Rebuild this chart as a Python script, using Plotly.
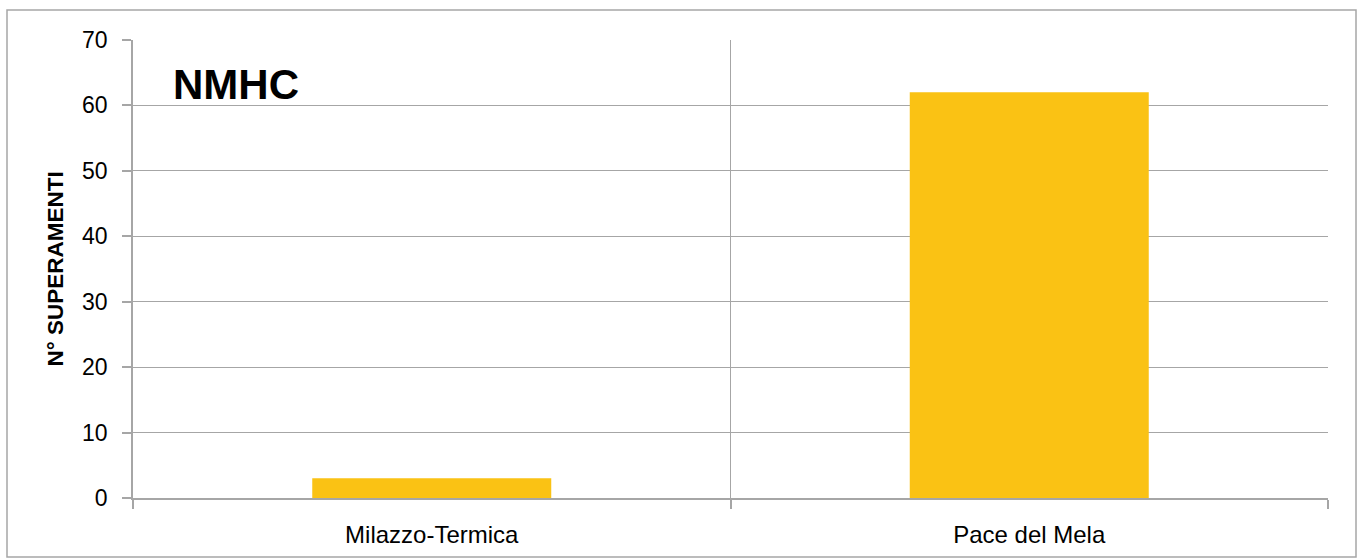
import plotly.graph_objects as go

categories = ["Milazzo-Termica", "Pace del Mela"]
values = [3, 62]
y_ticks = [0, 10, 20, 30, 40, 50, 60, 70]

W, H = 1358, 559
L, R, T, B = 133, 30, 40, 61
pw, ph = W - L - R, H - T - B

fig = go.Figure()
fig.add_trace(go.Bar(
    x=categories, y=values,
    marker=dict(color="#FAC214", line=dict(width=0)),
    width=0.4,
    hoverinfo="x+y",
))

grid = "#A6A6A6"
fig.update_layout(
    width=W, height=H,
    margin=dict(l=L, r=R, t=T, b=B),
    paper_bgcolor="white", plot_bgcolor="white",
    font=dict(family="Liberation Sans, Arial, sans-serif", color="black"),
    showlegend=False,
    xaxis=dict(
        type="category",
        tickson="boundaries",
        ticks="outside", ticklen=9, tickcolor=grid, tickwidth=1.5,
        showgrid=True, gridcolor=grid, gridwidth=1,
        showline=True, linecolor=grid, linewidth=1.5,
        tickfont=dict(size=24),
        ticklabelstandoff=14,
        range=[-0.5, 1.5],
    ),
    yaxis=dict(
        range=[0, 70], tickvals=y_ticks,
        ticks="outside", ticklen=9, tickcolor=grid, tickwidth=1.5,
        showgrid=True, gridcolor=grid, gridwidth=1,
        showline=True, linecolor=grid, linewidth=1.5,
        zeroline=False,
        tickfont=dict(size=23),
        ticklabelstandoff=10,
        title=dict(text="<b>N° SUPERAMENTI</b>", font=dict(size=22.5), standoff=12),
    ),
    shapes=[dict(
        type="rect", xref="paper", yref="paper",
        x0=(7 - L) / pw, x1=(1356 - L) / pw,
        y0=(H - B - 557) / ph, y1=(H - B - 10) / ph,
        line=dict(color="#A6A6A6", width=1.5), fillcolor="rgba(0,0,0,0)",
        layer="below",
    )],
    annotations=[dict(
        text="<b>NMHC</b>", xref="paper", yref="paper",
        x=(171 - L) / pw, y=(H - B - 84) / ph,
        xanchor="left", yanchor="middle", showarrow=False,
        font=dict(size=42, color="black"),
    )],
)

fig.write_html(
    "out.html",
    config={"displayModeBar": False},
    post_script="document.body.style.margin='0';document.body.style.padding='0';document.body.style.overflow='hidden';",
)
